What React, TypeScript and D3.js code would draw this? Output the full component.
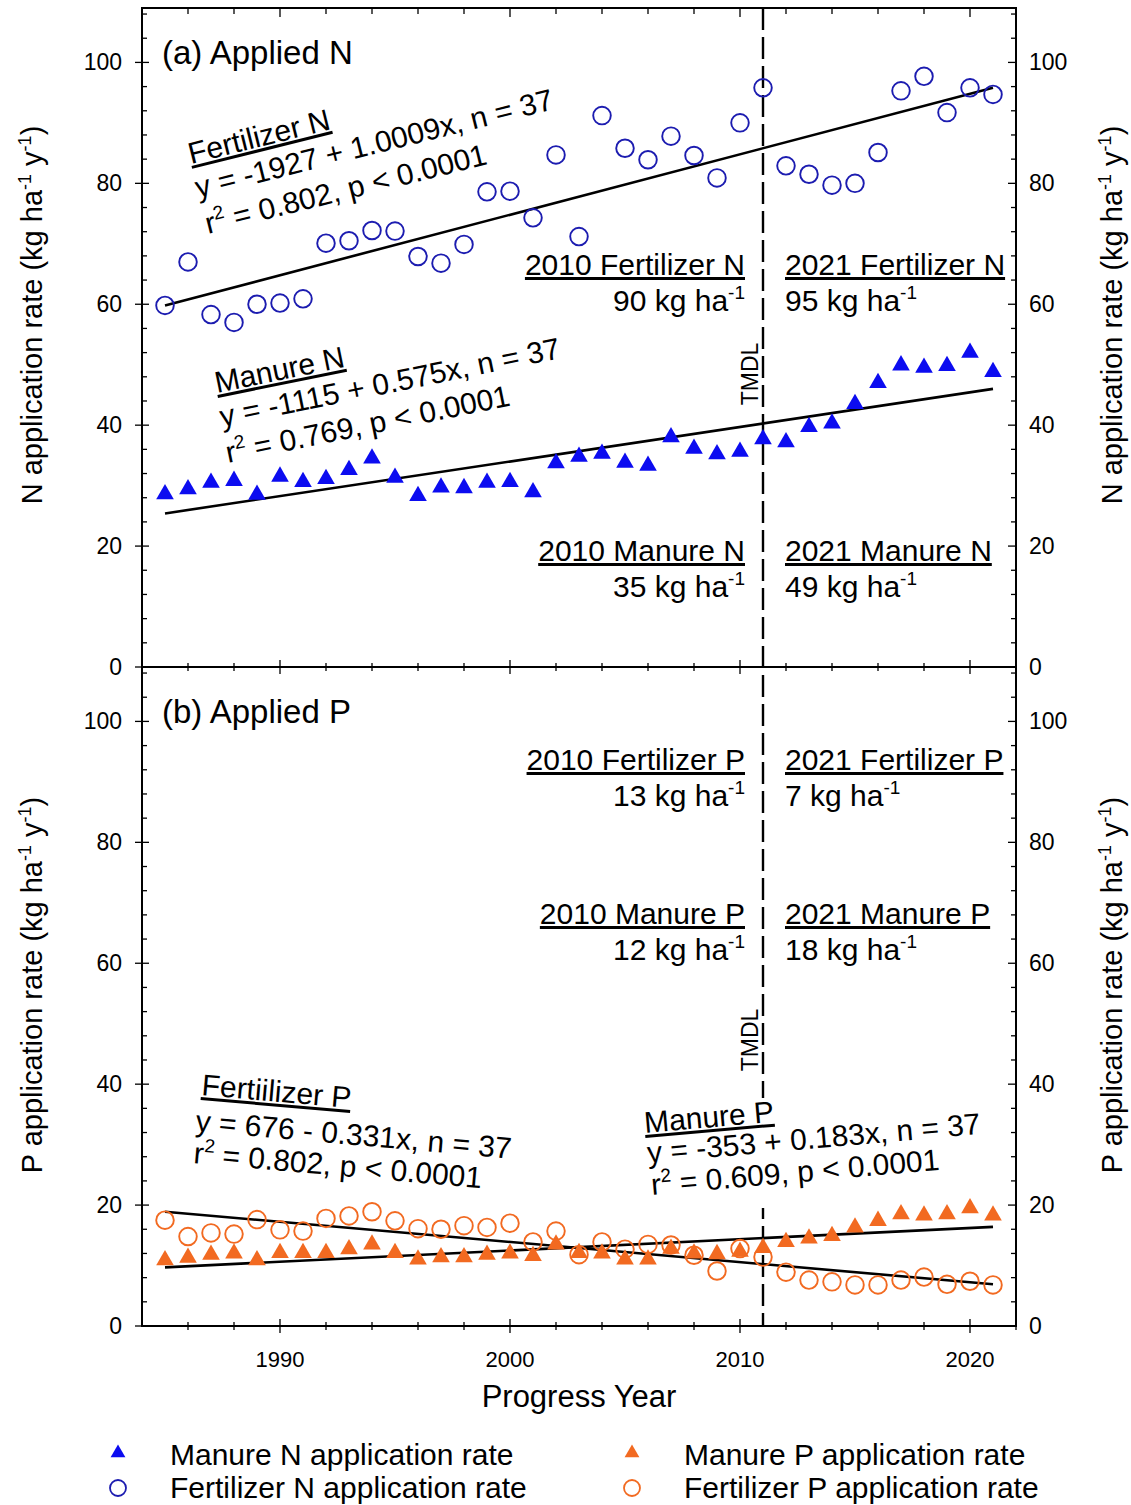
import React from "react";
import * as d3 from "d3";

const years = [1985, 1986, 1987, 1988, 1989, 1990, 1991, 1992, 1993, 1994, 1995, 1996, 1997, 1998, 1999, 2000, 2001, 2002, 2003, 2004, 2005, 2006, 2007, 2008, 2009, 2010, 2011, 2012, 2013, 2014, 2015, 2016, 2017, 2018, 2019, 2020, 2021];
const fertN = [59.8, 67.0, 58.3, 57.0, 60.0, 60.2, 60.9, 70.1, 70.5, 72.2, 72.1, 67.9, 66.8, 69.9, 78.6, 78.7, 74.3, 84.7, 71.2, 91.2, 85.8, 83.9, 87.8, 84.6, 80.9, 90.0, 95.8, 82.9, 81.5, 79.7, 80.0, 85.1, 95.3, 97.7, 91.7, 95.8, 94.7];
const manureN = [28.6, 29.4, 30.5, 30.8, 28.5, 31.5, 30.6, 31.1, 32.6, 34.5, 31.3, 28.3, 29.7, 29.6, 30.5, 30.6, 28.9, 33.7, 34.8, 35.3, 33.8, 33.3, 38.0, 36.1, 35.2, 35.6, 37.7, 37.2, 39.7, 40.3, 43.5, 47.0, 49.9, 49.5, 49.8, 52.0, 48.8];
const fertP = [17.5, 14.8, 15.4, 15.2, 17.6, 15.9, 15.7, 17.8, 18.2, 18.9, 17.4, 16.1, 16.0, 16.6, 16.3, 17.0, 13.9, 15.7, 11.8, 13.9, 12.7, 13.5, 13.4, 11.7, 9.1, 12.8, 11.4, 8.9, 7.6, 7.3, 6.8, 6.8, 7.6, 8.1, 6.9, 7.4, 6.8];
const manureP = [10.9, 11.3, 11.8, 12.0, 10.9, 12.1, 12.1, 12.1, 12.7, 13.5, 12.1, 11.0, 11.4, 11.4, 11.8, 12.0, 11.6, 13.5, 12.1, 12.0, 11.0, 11.0, 12.8, 12.0, 11.9, 12.3, 12.9, 13.9, 14.5, 14.9, 16.3, 17.4, 18.5, 18.3, 18.5, 19.5, 18.3];

const trendYears = [1985, 2021];
const fertNTrend = [59.8, 95.8];
const manureNTrend = [25.4, 46.0];
const fertPTrend = [18.9, 6.9];
const manurePTrend = [9.7, 16.4];

const yTickLabels = [0, 20, 40, 60, 80, 100];
const xTickLabels = [1990, 2000, 2010, 2020];
const tmdlYear = 2011;

const FONT = "'Liberation Sans', Arial, Helvetica, sans-serif";
const BLUE_TRI = "#0c0cf0";
const BLUE_CIR = "#1c1cb0";
const ORANGE = "#f26a21";

const L = 142, R = 1016;
const aTop = 8, aBot = 667, bTop = 667, bBot = 1326;

const x = d3.scaleLinear().domain([1984, 2022]).range([L, R]);
const yA = d3.scaleLinear().domain([0, 109]).range([aBot, aTop]);
const yB = d3.scaleLinear().domain([0, 109]).range([bBot, bTop]);

const triPath = d3.symbol(d3.symbolTriangle, 135)()!;
const triLegend = d3.symbol(d3.symbolTriangle, 95)()!;

function KgHa({ num }: { num: string }) {
  return (
    <>
      <tspan>{num} kg ha</tspan>
      <tspan dy={-12} fontSize={19}>-1</tspan>
    </>
  );
}

function YAxis({ y }: { y: d3.ScaleLinear<number, number> }) {
  const minor = d3.range(0, 109, 4);
  return (
    <g>
      {minor.map((v) => {
        const major = v % 20 === 0;
        const py = y(v);
        return (
          <g key={v}>
            <line x1={major ? L - 7 : L} x2={L + (major ? 7 : 5)} y1={py} y2={py} stroke="#000" strokeWidth={1.3} />
            <line x1={R - (major ? 8 : 5)} x2={R} y1={py} y2={py} stroke="#000" strokeWidth={1.3} />
          </g>
        );
      })}
      {yTickLabels.map((v) => (
        <g key={"l" + v}>
          <text x={122} y={y(v)} dy="0.35em" textAnchor="end" fontSize={23} fontFamily={FONT}>{v}</text>
          <text x={1029} y={y(v)} dy="0.35em" textAnchor="start" fontSize={23} fontFamily={FONT}>{v}</text>
        </g>
      ))}
    </g>
  );
}

function XTicks({ yPos }: { yPos: number }) {
  const minor = d3.range(1986, 2023, 2);
  return (
    <g>
      {minor.map((yr) => {
        const major = yr % 10 === 0;
        const len = major ? 7 : 4;
        return <line key={yr} x1={x(yr)} x2={x(yr)} y1={yPos - len} y2={yPos + len} stroke="#000" strokeWidth={1.3} />;
      })}
    </g>
  );
}

function TopTicks() {
  const minor = d3.range(1986, 2023, 2);
  return (
    <g>
      {minor.map((yr) => {
        const major = yr % 10 === 0;
        return <line key={yr} x1={x(yr)} x2={x(yr)} y1={aTop} y2={aTop + (major ? 9 : 6)} stroke="#000" strokeWidth={1.3} />;
      })}
    </g>
  );
}

function Triangles({ data, y, color }: { data: number[]; y: d3.ScaleLinear<number, number>; color: string }) {
  return (
    <g>
      {data.map((v, i) => (
        <path key={i} d={triPath} transform={`translate(${x(years[i])},${y(v)})`} fill={color} />
      ))}
    </g>
  );
}

function Circles({ data, y, color }: { data: number[]; y: d3.ScaleLinear<number, number>; color: string }) {
  return (
    <g>
      {data.map((v, i) => (
        <circle key={i} cx={x(years[i])} cy={y(v)} r={8.8} fill="none" stroke={color} strokeWidth={1.9} />
      ))}
    </g>
  );
}

function Trend({ vals, y }: { vals: number[]; y: d3.ScaleLinear<number, number> }) {
  const line = d3.line<number>().x((_, i) => x(trendYears[i])).y((v) => y(v));
  return <path d={line(vals)!} fill="none" stroke="#000" strokeWidth={2.6} />;
}

function RotText({ px, py, angle, children, underline = false }: { px: number; py: number; angle: number; children: React.ReactNode; underline?: boolean }) {
  return (
    <text
      transform={`translate(${px},${py}) rotate(${angle})`}
      fontSize={30}
      fontFamily={FONT}
      style={underline ? { textDecoration: "underline" } : undefined}
    >
      {children}
    </text>
  );
}

function R2({ rest }: { rest: string }) {
  return (
    <>
      <tspan>r</tspan>
      <tspan dy={-12} fontSize={19}>2</tspan>
      <tspan dy={12}>{rest}</tspan>
    </>
  );
}

function Ann({ px, py, anchor, title, num }: { px: number; py: number; anchor: "start" | "end"; title: string; num: string }) {
  return (
    <g fontFamily={FONT} fontSize={30}>
      <text x={px} y={py} textAnchor={anchor} style={{ textDecoration: "underline" }}>{title}</text>
      <text x={px} y={py + 36} textAnchor={anchor}>
        <KgHa num={num} />
      </text>
    </g>
  );
}

function YTitle({ cx, cy, letter }: { cx: number; cy: number; letter: string }) {
  return (
    <text transform={`translate(${cx},${cy}) rotate(-90)`} textAnchor="middle" fontSize={29} fontFamily={FONT}>
      <tspan>{letter} application rate (kg ha</tspan>
      <tspan dy={-11} fontSize={18}>-1</tspan>
      <tspan dy={11}> y</tspan>
      <tspan dy={-11} fontSize={18}>-1</tspan>
      <tspan dy={11}>)</tspan>
    </text>
  );
}

export default function App() {
  const xT = x(tmdlYear);
  return (
    <svg width={1131} height={1505} style={{ position: "absolute", left: 0, top: 0, background: "#fff" }}>
      <rect x={0} y={0} width={1131} height={1505} fill="#fff" />

      {/* TMDL dashed line */}
      <line x1={xT} x2={xT} y1={aTop} y2={bBot} stroke="#000" strokeWidth={2.4} strokeDasharray="22,7" />
      <text transform={`translate(${xT - 5},${374}) rotate(-90)`} textAnchor="middle" fontSize={23} fontFamily={FONT}>TMDL</text>
      <text transform={`translate(${xT - 5},${1040}) rotate(-90)`} textAnchor="middle" fontSize={23} fontFamily={FONT}>TMDL</text>
      {/* white backdrop of the Manure P equation block hides the dashed line */}
      <rect x={xT - 8} y={1098} width={16} height={110} fill="#fff" />

      {/* Panel a data */}
      <Trend vals={fertNTrend} y={yA} />
      <Trend vals={manureNTrend} y={yA} />
      <Circles data={fertN} y={yA} color={BLUE_CIR} />
      <Triangles data={manureN} y={yA} color={BLUE_TRI} />

      {/* Panel b data */}
      <Trend vals={fertPTrend} y={yB} />
      <Trend vals={manurePTrend} y={yB} />
      <Triangles data={manureP} y={yB} color={ORANGE} />
      <Circles data={fertP} y={yB} color={ORANGE} />

      {/* Frames */}
      <rect x={L} y={aTop} width={R - L} height={bBot - aTop} fill="none" stroke="#000" strokeWidth={2} />
      <line x1={L} x2={R} y1={aBot} y2={aBot} stroke="#000" strokeWidth={2} />
      <TopTicks />
      <XTicks yPos={aBot} />
      <XTicks yPos={bBot} />
      <YAxis y={yA} />
      <YAxis y={yB} />

      {/* X labels */}
      {xTickLabels.map((yr) => (
        <text key={yr} x={x(yr)} y={1367} textAnchor="middle" fontSize={22} fontFamily={FONT}>{yr}</text>
      ))}
      <text x={(L + R) / 2} y={1407} textAnchor="middle" fontSize={31} fontFamily={FONT}>Progress Year</text>

      {/* Y titles */}
      <YTitle cx={42} cy={315} letter="N" />
      <YTitle cx={1122} cy={315} letter="N" />
      <YTitle cx={42} cy={985} letter="P" />
      <YTitle cx={1122} cy={985} letter="P" />

      {/* Panel labels */}
      <text x={162} y={64} fontSize={33} fontFamily={FONT}>(a) Applied N</text>
      <text x={162} y={723} fontSize={33} fontFamily={FONT}>(b) Applied P</text>

      {/* Fertilizer N regression */}
      <RotText px={191} py={164} angle={-14} underline>Fertilizer N</RotText>
      <RotText px={198} py={198} angle={-14}>y = -1927 + 1.0009x, n = 37</RotText>
      <RotText px={208} py={234} angle={-14}><R2 rest=" = 0.802, p < 0.0001" /></RotText>

      {/* Manure N regression */}
      <RotText px={217} py={393} angle={-11.5} underline>Manure N</RotText>
      <RotText px={222} py={427} angle={-11.5}>y = -1115 + 0.575x, n = 37</RotText>
      <RotText px={228} py={463} angle={-11.5}><R2 rest=" = 0.769, p < 0.0001" /></RotText>

      {/* Fertilizer P regression */}
      <RotText px={201} py={1095} angle={5} underline>Fertiilizer P</RotText>
      <RotText px={195} py={1131} angle={5}>y = 676 - 0.331x, n = 37</RotText>
      <RotText px={193} py={1163} angle={5}><R2 rest=" = 0.802, p < 0.0001" /></RotText>

      {/* Manure P regression */}
      <RotText px={645} py={1133} angle={-5} underline>Manure P</RotText>
      <RotText px={648} py={1163} angle={-5}>y = -353 + 0.183x, n = 37</RotText>
      <RotText px={652} py={1195} angle={-5}><R2 rest=" = 0.609, p < 0.0001" /></RotText>

      {/* Year annotations */}
      <Ann px={745} py={275} anchor="end" title="2010 Fertilizer N" num="90" />
      <Ann px={785} py={275} anchor="start" title="2021 Fertilizer N" num="95" />
      <Ann px={745} py={561} anchor="end" title="2010 Manure N" num="35" />
      <Ann px={785} py={561} anchor="start" title="2021 Manure N" num="49" />
      <Ann px={745} py={770} anchor="end" title="2010 Fertilizer P" num="13" />
      <Ann px={785} py={770} anchor="start" title="2021 Fertilizer P" num="7" />
      <Ann px={745} py={924} anchor="end" title="2010 Manure P" num="12" />
      <Ann px={785} py={924} anchor="start" title="2021 Manure P" num="18" />

      {/* Legend */}
      <g fontFamily={FONT} fontSize={30}>
        <path d={triLegend} transform="translate(118,1453)" fill={BLUE_TRI} />
        <text x={170} y={1465}>Manure N application rate</text>
        <circle cx={118} cy={1488} r={8} fill="none" stroke={BLUE_CIR} strokeWidth={1.8} />
        <text x={170} y={1498}>Fertilizer N application rate</text>
        <path d={triLegend} transform="translate(632,1453)" fill={ORANGE} />
        <text x={684} y={1465}>Manure P application rate</text>
        <circle cx={632} cy={1488} r={8} fill="none" stroke={ORANGE} strokeWidth={1.8} />
        <text x={684} y={1498}>Fertilizer P application rate</text>
      </g>
    </svg>
  );
}
